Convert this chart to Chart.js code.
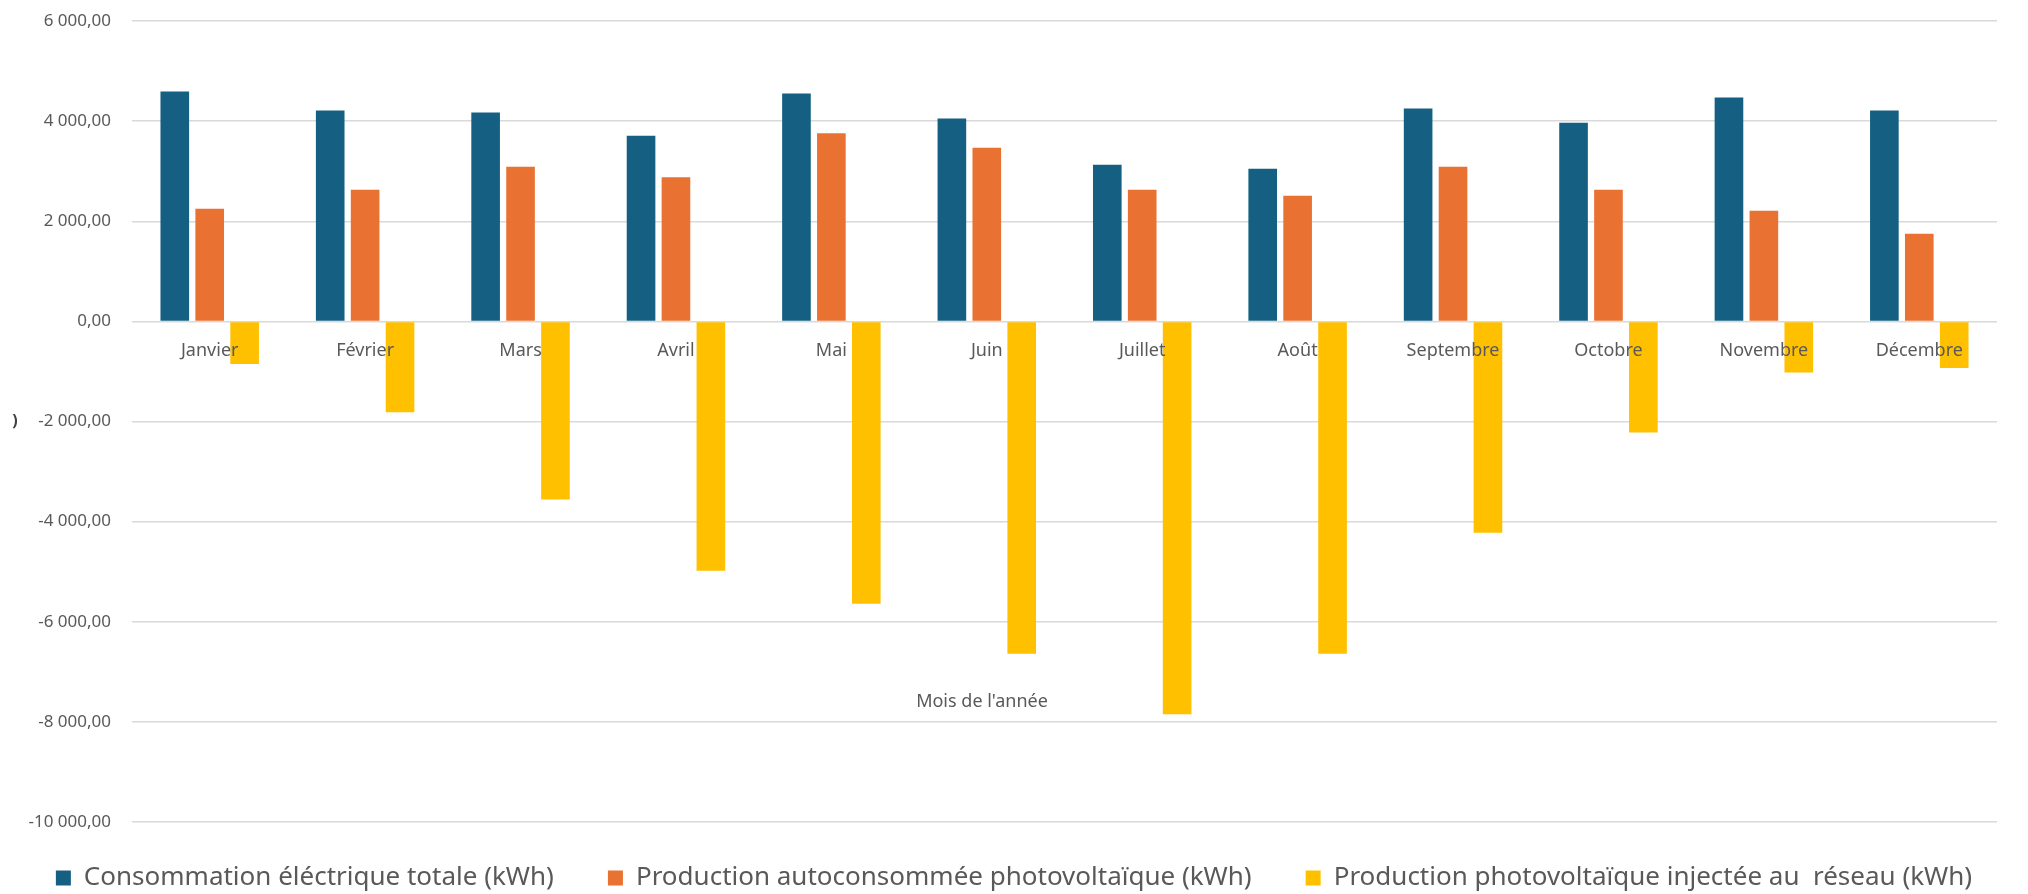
<!DOCTYPE html>
<html>
<head>
    <title>Consommation et production</title>
    <script src="https://cdn.jsdelivr.net/npm/chart.js"></script>
    <style>
        body { margin: 0; background: #ffffff; }
        #wrap { width: 2028px; height: 894px; }
    </style>
</head>
<body>
    <div id="wrap"><canvas id="energyChart"></canvas></div>

    <script>
        const mois = ['Janvier', 'Février', 'Mars', 'Avril', 'Mai', 'Juin', 'Juillet', 'Août', 'Septembre', 'Octobre', 'Novembre', 'Décembre'];
        const consommation = [4590, 4210, 4170, 3710, 4550, 4050, 3130, 3050, 4250, 3970, 4470, 4210];
        const autoconsommee = [2250, 2630, 3090, 2880, 3760, 3470, 2630, 2510, 3090, 2630, 2210, 1750];
        const injectee = [-850, -1815, -3560, -4980, -5640, -6640, -7850, -6640, -4220, -2220, -1020, -930];
        const yMin = -10000, yMax = 6000, yStep = 2000;

        const font = "'Noto Sans', 'Open Sans', sans-serif";
        const grey = '#595959';

        // 6000 -> "6 000,00"
        function frNumber(v) {
            const neg = v < 0;
            let [ent, dec] = Math.abs(v).toFixed(2).split('.');
            ent = ent.replace(/\B(?=(\d{3})+(?!\d))/g, ' ');
            return (neg ? '-' : '') + ent + ',' + dec;
        }

        const extraText = {
            id: 'extraText',
            // legend box is squeezed by maxHeight; lift it and let it reach the bottom edge
            afterLayout(chart) {
                chart.legend.top -= 11;
                chart.legend.bottom = chart.height;
            },
            // axis title floating in the plot, plus the clipped remnant on the left
            afterDraw(chart) {
                const ctx = chart.ctx;
                ctx.save();
                ctx.fillStyle = grey;
                ctx.font = "18px " + font;
                ctx.textAlign = 'center';
                ctx.textBaseline = 'middle';
                ctx.fillText("Mois de l'année", 982, 702);
                ctx.fillStyle = '#404040';
                ctx.font = "bold 16px " + font;
                ctx.fillText(')', 15, 421);
                ctx.restore();
            }
        };

        new Chart(document.getElementById('energyChart'), {
            type: 'bar',
            data: {
                labels: mois,
                datasets: [{
                    label: 'Consommation éléctrique totale (kWh)',
                    data: consommation,
                    backgroundColor: '#156082'
                }, {
                    label: 'Production autoconsommée photovoltaïque (kWh)',
                    data: autoconsommee,
                    backgroundColor: '#E97132'
                }, {
                    label: 'Production photovoltaïque injectée au  réseau (kWh)',
                    data: injectee,
                    backgroundColor: '#FFC000'
                }]
            },
            options: {
                responsive: true,
                maintainAspectRatio: false,
                animation: false,
                categoryPercentage: 0.674,
                barPercentage: 0.82,
                layout: { padding: { top: 21, right: 0, left: 0, bottom: 0 } },
                plugins: {
                    tooltip: { enabled: false },
                    legend: {
                        position: 'bottom',
                        maxHeight: 72,
                        labels: {
                            boxWidth: 15,
                            boxHeight: 15,
                            padding: 54,
                            color: grey,
                            font: { family: font, size: 26 }
                        }
                    }
                },
                scales: {
                    x: {
                        position: { y: 0 },
                        grid: { display: false, drawTicks: false },
                        border: { display: false },
                        ticks: {
                            z: 1,
                            color: grey,
                            padding: 19,
                            maxRotation: 0,
                            autoSkip: false,
                            font: { family: font, size: 18 }
                        }
                    },
                    y: {
                        min: yMin,
                        max: yMax,
                        afterFit: s => {
                            s.width = 132;
                            s.paddingTop = 10;
                            s.paddingBottom = 10;
                        },
                        grid: { color: '#d9d9d9', lineWidth: 1.5, drawTicks: false },
                        border: { display: false },
                        ticks: {
                            stepSize: yStep,
                            color: grey,
                            padding: 21,
                            font: { family: font, size: 17 },
                            callback: v => frNumber(v)
                        }
                    },
                    // empty right margin so the plot stops where the reference does
                    yRight: {
                        position: 'right',
                        afterFit: s => { s.width = 31; },
                        grid: { display: false },
                        border: { display: false },
                        ticks: { display: false }
                    }
                }
            },
            plugins: [extraText]
        });
    </script>
</body>
</html>
